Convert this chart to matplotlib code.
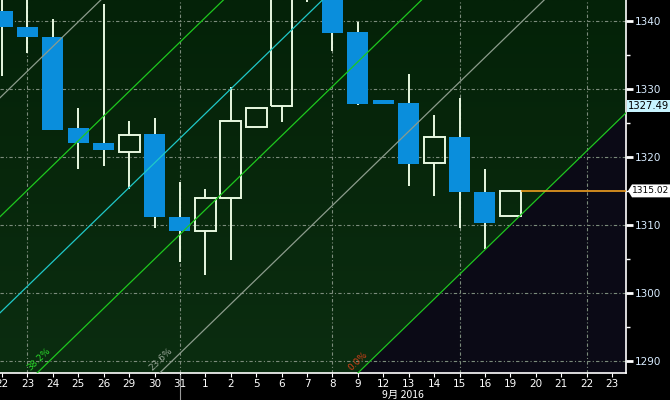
import numpy as np
import matplotlib.pyplot as plt
from matplotlib.colors import LinearSegmentedColormap
from matplotlib.patches import Rectangle, Polygon
import matplotlib.transforms as mtransforms

# trading days, Aug 22 - Sep 23 2016
day_labels = ['22', '23', '24', '25', '26', '29', '30', '31', '1', '2', '5', '6', '7',
              '8', '9', '12', '13', '14', '15', '16', '19', '20', '21', '22', '23']

# OHLC (candles cut off at the top are estimated)
opens  = [1341.5, 1339.1, 1337.7, 1324.3, 1322.1, 1320.8, 1323.4, 1311.2, 1309.1, 1314.0,
          1324.4, 1327.5, 1349.0, 1346.0, 1338.4, 1328.4, 1327.9, 1319.1, 1322.9, 1314.9, 1311.3]
highs  = [1344.0, 1345.0, 1340.3, 1327.2, 1342.5, 1325.3, 1325.7, 1316.3, 1315.3, 1330.3,
          1327.2, 1347.0, 1351.0, 1348.0, 1339.9, 1328.4, 1332.2, 1326.2, 1328.7, 1318.2, 1315.1]
lows   = [1331.9, 1335.3, 1324.0, 1318.3, 1318.7, 1315.3, 1309.6, 1304.6, 1302.7, 1304.9,
          1324.4, 1325.2, 1342.8, 1335.6, 1327.7, 1327.8, 1315.8, 1314.3, 1309.6, 1306.5, 1311.3]
closes = [1339.1, 1337.6, 1324.0, 1322.0, 1321.1, 1323.3, 1311.2, 1309.1, 1314.0, 1325.3,
          1327.2, 1345.0, 1348.0, 1338.3, 1327.8, 1327.8, 1319.0, 1322.9, 1314.8, 1310.3, 1315.02]

last_price = 1315.02
channel_label = 1327.49

# fibonacci channel
fib_levels = [0.0, 0.236, 0.382, 0.5, 0.618, 0.764]
fib_texts = ['0.0%', '23.6%', '38.2%', None, None, None]
fib_colors = ['#1ec81e', '#8c9c8c', '#1ec81e', '#20c8c8', '#1ec81e', '#8c9c8c']
fib_text_colors = ['#d8401a', '#9aa89a', '#2ad82a', None, None, None]
base_day = 14.0
base_price = 1288.24
slope = 3.626
channel_width = 119.8

x_min, x_max = -0.08, 24.55
y_min, y_max = 1288.24, 1343.09

fig = plt.figure(figsize=(6.7, 4.0), dpi=100, facecolor='black')
ax = fig.add_axes([0, 27 / 400, 626 / 670, 373 / 400])
ax.set_facecolor('#082a0e')

# background gradient
cmap = LinearSegmentedColormap.from_list('bg', ['#0b2d10', '#042208'])
grad = np.linspace(0, 1, 256).reshape(-1, 1)
ax.imshow(grad, extent=[x_min, x_max, y_max, y_min], aspect='auto', cmap=cmap, zorder=0)

xs = np.linspace(x_min, x_max, 200)
base_line = base_price + slope * (xs - base_day)
ax.fill_between(xs, y_min - 5, base_line, color='#0b0a16', zorder=1)

# grid
for y in range(1290, 1341, 10):
    ax.axhline(y, color='#7c8c7c', lw=0.8, ls=(0, (3, 2, 1, 2)), zorder=2)
for i in [1, 7, 13, 18, 23]:
    ax.axvline(i, color='#7c8c7c', lw=0.8, ls=(0, (3, 2, 1, 2)), zorder=2)

# candles
body_w = 0.83
for i in range(len(opens)):
    o, h, l, c = opens[i], highs[i], lows[i], closes[i]
    if c < o:
        ax.vlines(i, l, h, color='#e8f8e0', lw=1.4, zorder=3)
        ax.add_patch(Rectangle((i - body_w / 2, c), body_w, max(o - c, 0.4),
                               facecolor='#0a8edc', edgecolor='none', zorder=4))
    else:
        ax.vlines(i, l, o, color='#e8f8e0', lw=1.4, zorder=3)
        ax.vlines(i, c, h, color='#e8f8e0', lw=1.4, zorder=3)
        ax.add_patch(Rectangle((i - body_w / 2, o), body_w, max(c - o, 0.4),
                               facecolor='none', edgecolor='#e8f8e0', lw=1.4, zorder=4))

# channel lines
for lvl, col, txt, tcol in zip(fib_levels, fib_colors, fib_texts, fib_text_colors):
    ys = base_line + lvl * channel_width
    ax.plot(xs, ys, color=col, lw=0.9, zorder=5)
    if txt:
        xi = base_day - lvl * channel_width / slope
        ax.text(xi - 0.22, y_min + 0.1, txt, color=tcol, fontsize=6.5, rotation=44,
                rotation_mode='anchor', ha='left', va='bottom', zorder=6)

ax.hlines(last_price, len(opens) - 1 + body_w / 2, x_max, color='#f0a020', lw=1.2, zorder=6)

ax.set_xlim(x_min, x_max)
ax.set_ylim(y_min, y_max)

for s in ['left', 'top']:
    ax.spines[s].set_visible(False)
for s in ['bottom', 'right']:
    ax.spines[s].set_color('white')
    ax.spines[s].set_linewidth(1.2)

ax.set_xticks(range(len(day_labels)))
ax.set_xticklabels(day_labels)
ax.tick_params(axis='x', colors='white', labelsize=7.5, length=3, pad=1)
ax.yaxis.tick_right()
ax.set_yticks(range(1290, 1341, 10))
ax.set_yticks(range(1295, 1341, 10), minor=True)
ax.tick_params(axis='y', which='major', colors='white', labelcolor='#d8ecff',
               labelsize=7.5, length=5, width=2, pad=1)
ax.tick_params(axis='y', which='minor', colors='white', length=3, width=1)

trans = mtransforms.blended_transform_factory(ax.transAxes, ax.transData)
ax.text(1.003, channel_label, f'{channel_label:.2f}', transform=trans, fontsize=7.2,
        color='black', va='center', ha='left', clip_on=False,
        bbox=dict(boxstyle='square,pad=0.1', fc='#c8f4ff', ec='none'))

# last price flag
flag = mtransforms.blended_transform_factory(fig.transFigure, ax.transData)
ax.add_patch(Polygon([(628 / 670, last_price), (632 / 670, last_price + 0.95),
                      (670 / 670, last_price + 0.95), (670 / 670, last_price - 0.95),
                      (632 / 670, last_price - 0.95)], closed=True, transform=flag,
                     facecolor='white', edgecolor='none', clip_on=False, zorder=7))
ax.text(632 / 670, last_price, f'{last_price:.2f}', transform=flag, fontsize=6.5,
        color='black', va='center', ha='left', clip_on=False, zorder=8)

# month separator below axis
xb = mtransforms.blended_transform_factory(ax.transData, ax.transAxes)
ax.plot([7, 7], [-0.005, -0.08], transform=xb, color='#9a9a9a', lw=0.8, clip_on=False)
ax.text(15.78, -0.058, '9月 2016', transform=xb, color='white', fontsize=7.5,
        ha='center', va='center', family=['Noto Sans CJK SC', 'DejaVu Sans'])

fig.savefig('out.png', dpi=100, facecolor='black')
